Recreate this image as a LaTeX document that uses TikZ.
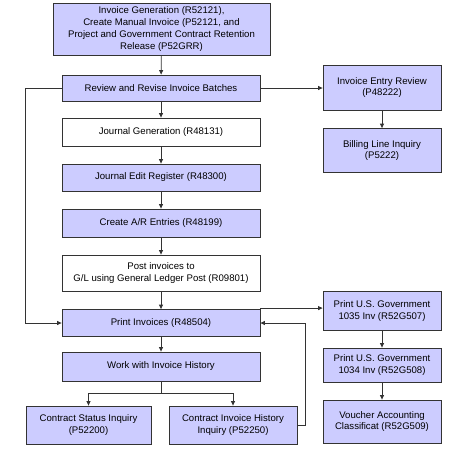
\documentclass[tikz,border=0pt]{standalone}
\usepackage{fontspec}
\setmainfont{Liberation Sans}
\usetikzlibrary{arrows.meta}
\definecolor{boxfill}{HTML}{CCCCFF}
\definecolor{lineclr}{HTML}{333333}
\tikzset{
  procbox/.style={draw=lineclr, line width=0.8pt, fill=boxfill, align=center,
    font=\fontsize{9.6}{11.7}\selectfont, inner sep=1pt},
  whitebox/.style={procbox, fill=white},
  sidebox/.style={procbox, minimum width=118pt},
  conn/.style={draw=lineclr, line width=0.8pt, -{Triangle[length=4.5pt,width=4pt]}},
}
\begin{document}
\begin{tikzpicture}[x=1pt,y=-1pt]
\useasboundingbox (0,0) rectangle (450,453);
% main column
\node[procbox, minimum width=217pt, minimum height=52pt] (gen) at (161.5,29)
  {Invoice Generation (R52121),\\Create Manual Invoice (P52121, and\\Project and Government Contract Retention\\Release (P52GRR)};
\node[procbox, minimum width=198pt, minimum height=26pt] (rev) at (161,88) {Review and Revise Invoice Batches};
\node[whitebox, minimum width=198pt, minimum height=28pt] (jg) at (161,132) {Journal Generation (R48131)};
\node[procbox, minimum width=198pt, minimum height=27pt] (jer) at (161,177.5) {Journal Edit Register (R48300)};
\node[procbox, minimum width=198pt, minimum height=28pt] (ar) at (161,223) {Create A/R Entries (R48199)};
\node[whitebox, minimum width=198pt, minimum height=36pt] (post) at (161,273) {Post invoices to\\G/L using General Ledger Post (R09801)};
\node[procbox, minimum width=198pt, minimum height=27pt] (pi) at (161,323) {Print Invoices (R48504)};
\node[procbox, minimum width=198pt, minimum height=29pt] (wih) at (161,366.5) {Work with Invoice History};
\node[procbox, minimum width=125pt, minimum height=38pt] (csi) at (88.5,425) {Contract Status Inquiry\\(P52200)};
\node[procbox, minimum width=128pt, minimum height=38pt] (cih) at (233,425) {Contract Invoice History\\Inquiry (P52250)};
% right column
\node[sidebox, minimum height=45pt] (ier) at (382,87.5) {Invoice Entry Review\\(P48222)};
\node[sidebox, minimum height=44pt] (bli) at (382,150.5) {Billing Line Inquiry\\(P5222)};
\node[sidebox, minimum height=39pt] (ga) at (382,311) {Print U.S. Government\\1035 Inv (R52G507)};
\node[sidebox, minimum height=34pt] (gb) at (382,365) {Print U.S. Government\\1034 Inv (R52G508)};
\node[sidebox, minimum height=43pt] (vac) at (382,421.5) {Voucher Accounting\\Classificat (R52G509)};
\coordinate (lx) at (25,0);
\coordinate (rx) at (305.5,0);
\coordinate (split) at (161,393);
% connectors
\draw[conn] (gen) -- (rev);
\draw[conn] (rev) -- (jg);
\draw[conn] (jg) -- (jer);
\draw[conn] (jer) -- (ar);
\draw[conn] (ar) -- (post);
\draw[conn] (post) -- (pi);
\draw[conn] (pi) -- (wih);
\draw[conn] (rev.west) -- (rev.west -| lx) |- (pi.west);
\draw[conn] (rev.east) -- (rev.east -| ier.west);
\draw[conn] (ier) -- (bli);
\draw[conn] ([yshift=1pt]pi.north east) -- ([yshift=1pt]pi.north east -| ga.west);
\draw[conn] (cih.east) -- (cih.east -| rx) |- (pi.east);
\draw[conn] (ga) -- (gb);
\draw[conn] (gb) -- (vac);
\draw[draw=lineclr, line width=0.8pt] (wih.south) -- (split);
\draw[conn] (split) -| (csi.north);
\draw[conn] (split) -| (cih.north);
\end{tikzpicture}
\end{document}
